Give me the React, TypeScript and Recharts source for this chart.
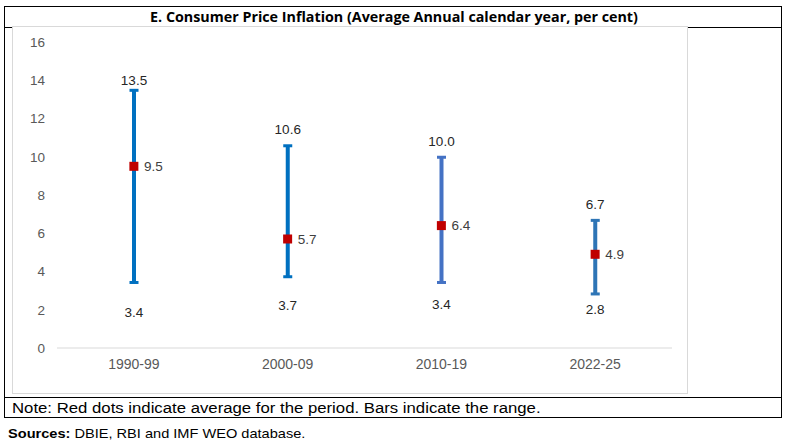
import React from "react";
import { ComposedChart, Bar, Line, XAxis, YAxis, LabelList } from "recharts";

// Periods and CPI inflation (per cent): range low/high and period average
const periods = ["1990-99", "2000-09", "2010-19", "2022-25"];
const lowValues = [3.4, 3.7, 3.4, 2.8];
const highValues = [13.5, 10.6, 10.0, 6.7];
const avgValues = [9.5, 5.7, 6.4, 4.9];
const yTicks = [0, 2, 4, 6, 8, 10, 12, 14, 16];

// styling: bar colour per period and the hand-placed label gaps of the original
const barColors = ["#0070C0", "#0070C0", "#4472C4", "#2E75B6"];
const highLabelGap = [10, 16, 15, 16];
const lowLabelGap = [29, 28, 21, 15];

const rows = periods.map((period, i) => ({
  period,
  low: lowValues[i],
  high: highValues[i],
  range: [lowValues[i], highValues[i]],
  avg: avgValues[i],
}));

const FONT = "'Liberation Sans', Arial, sans-serif";

// vertical range bar with small caps and the low / high labels
function RangeShape(props: any) {
  const { x, y, width, height, index, payload } = props;
  const cx = x + width / 2;
  const color = barColors[index];
  const bottom = y + height;
  return (
    <g>
      <rect x={cx - 2} y={y} width={4} height={height} fill={color} />
      <rect x={cx - 4.5} y={y - 1} width={9} height={3} fill={color} />
      <rect x={cx - 4.5} y={bottom - 2} width={9} height={3} fill={color} />
      <text x={cx} y={y - highLabelGap[index]} dy="0.35em" textAnchor="middle" fontSize={13.5} fill="#262626" fontFamily={FONT}>
        {payload.high.toFixed(1)}
      </text>
      <text x={cx} y={bottom + lowLabelGap[index]} dy="0.35em" textAnchor="middle" fontSize={13.5} fill="#262626" fontFamily={FONT}>
        {payload.low.toFixed(1)}
      </text>
    </g>
  );
}

function AvgDot(props: any) {
  const { cx, cy, index } = props;
  if (cx == null || cy == null) return null;
  return <rect key={index} x={cx - 4.5} y={cy - 4.5} width={9} height={9} fill="#C00000" />;
}

const hLine = (top: number, left: number, width: number) => ({
  position: "absolute" as const,
  top,
  left,
  width,
  height: 0,
  borderTop: "1.5px solid #000",
});

export default function App() {
  return (
    <div style={{ position: "absolute", left: 0, top: 0, width: 786, height: 444, background: "#fff", fontFamily: FONT }}>
      {/* table frame */}
      <div style={{ position: "absolute", left: 4, top: 6, width: 776, height: 410, border: "1.5px solid #000" }} />
      <div style={hLine(27, 4, 777)} />
      <div style={hLine(397, 4, 777)} />

      {/* title */}
      <div
        style={{
          position: "absolute",
          top: 8,
          left: 4,
          width: 780,
          textAlign: "center",
          fontFamily: "'Open Sans', Lato, sans-serif",
          fontWeight: 700,
          fontSize: 14.3,
          lineHeight: "18px",
          color: "#000",
        }}
      >
        E. Consumer Price Inflation (Average Annual calendar year, per cent)
      </div>

      {/* chart */}
      <div style={{ position: "absolute", left: 12, top: 26, width: 674, height: 366, border: "1px solid #d9d9d9", background: "#fff" }}>
        <ComposedChart width={674} height={366} data={rows} margin={{ top: 15, right: 15, bottom: 15, left: 0 }}>
          <XAxis
            dataKey="period"
            height={30}
            tickLine={false}
            tickSize={0}
            tickMargin={11}
            axisLine={{ stroke: "#d9d9d9" }}
            tick={{ fill: "#595959", fontSize: 14, fontFamily: FONT }}
          />
          <YAxis
            width={44}
            domain={[0, 16]}
            ticks={yTicks}
            interval={0}
            axisLine={false}
            tickLine={false}
            tickSize={0}
            tickMargin={12}
            tick={{ fill: "#595959", fontSize: 13.5, fontFamily: FONT }}
          />
          <Bar dataKey="range" barSize={10} shape={<RangeShape />} isAnimationActive={false} />
          <Line
            dataKey="avg"
            stroke="none"
            dot={<AvgDot />}
            activeDot={false}
            isAnimationActive={false}
          >
            <LabelList
              dataKey="avg"
              position="right"
              offset={10}
              fill="#404040"
              fontSize={13.5}
              fontFamily={FONT}
              formatter={(v: any) => Number(v).toFixed(1)}
            />
          </Line>
        </ComposedChart>
      </div>

      {/* note and sources */}
      <div
        style={{
          position: "absolute",
          top: 399,
          left: 12,
          fontSize: 15.5,
          lineHeight: "18px",
          color: "#000",
          whiteSpace: "nowrap",
          transform: "scaleX(1.08)",
          transformOrigin: "left center",
        }}
      >
        Note: Red dots indicate average for the period. Bars indicate the range.
      </div>
      <div
        style={{
          position: "absolute",
          top: 425,
          left: 8,
          fontSize: 13.5,
          lineHeight: "17px",
          color: "#000",
          whiteSpace: "nowrap",
          transform: "scaleX(1.08)",
          transformOrigin: "left center",
        }}
      >
        <b>Sources:</b> DBIE, RBI and IMF WEO database.
      </div>
    </div>
  );
}
